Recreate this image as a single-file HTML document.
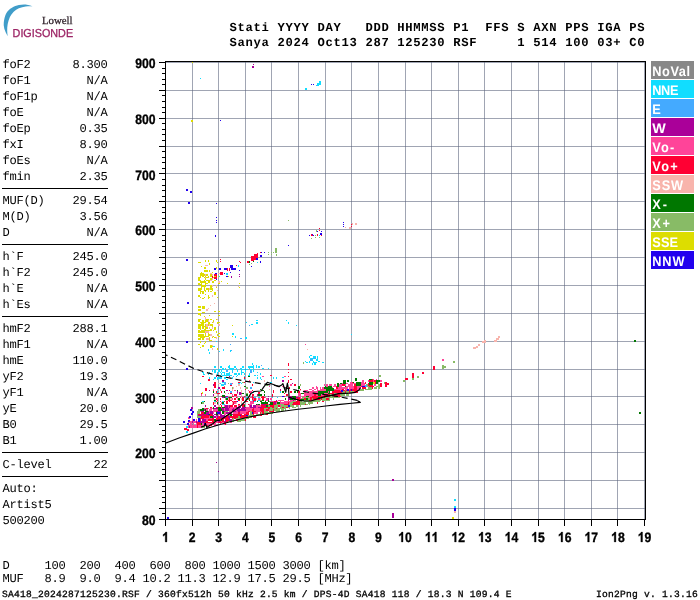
<!DOCTYPE html>
<html><head><meta charset="utf-8"><title>Ionogram</title><style>
html,body{margin:0;padding:0;background:#fff;}
#w{position:absolute;left:0;top:0;width:700px;height:600px;will-change:transform;}
body{width:700px;height:600px;position:relative;overflow:hidden;text-rendering:geometricPrecision;font-family:"Liberation Mono",monospace;color:#000;}
.m{position:absolute;left:2.5px;white-space:pre;font-family:"Liberation Mono",monospace;font-size:12.1px;letter-spacing:-0.26px;line-height:16px;height:16px;}
.h{position:absolute;left:229.5px;white-space:pre;font-family:"Liberation Mono",monospace;font-weight:bold;font-size:12.2px;letter-spacing:0.68px;line-height:16px;height:16px;}
.s{position:absolute;white-space:pre;font-family:"Liberation Mono",monospace;font-weight:normal;-webkit-text-stroke:0.3px #000;font-size:9.6px;letter-spacing:0.24px;line-height:12px;height:12px;}
</style></head><body><div id="w">
<svg width="700" height="600" viewBox="0 0 700 600" style="position:absolute;left:0;top:0">
<g fill="rgba(92,100,124,0.58)" shape-rendering="crispEdges"><rect x="192" y="62" width="1" height="457"/><rect x="218" y="62" width="1" height="457"/><rect x="245" y="62" width="1" height="457"/><rect x="271" y="62" width="1" height="457"/><rect x="298" y="62" width="1" height="457"/><rect x="325" y="62" width="1" height="457"/><rect x="351" y="62" width="1" height="457"/><rect x="378" y="62" width="1" height="457"/><rect x="405" y="62" width="1" height="457"/><rect x="431" y="62" width="1" height="457"/><rect x="458" y="62" width="1" height="457"/><rect x="484" y="62" width="1" height="457"/><rect x="511" y="62" width="1" height="457"/><rect x="538" y="62" width="1" height="457"/><rect x="564" y="62" width="1" height="457"/><rect x="591" y="62" width="1" height="457"/><rect x="617" y="62" width="1" height="457"/><rect x="644" y="62" width="1" height="457"/><rect x="166" y="508" width="479" height="1"/><rect x="166" y="480" width="479" height="1"/><rect x="166" y="452" width="479" height="1"/><rect x="166" y="424" width="479" height="1"/><rect x="166" y="396" width="479" height="1"/><rect x="166" y="369" width="479" height="1"/><rect x="166" y="341" width="479" height="1"/><rect x="166" y="313" width="479" height="1"/><rect x="166" y="285" width="479" height="1"/><rect x="166" y="257" width="479" height="1"/><rect x="166" y="229" width="479" height="1"/><rect x="166" y="201" width="479" height="1"/><rect x="166" y="173" width="479" height="1"/><rect x="166" y="146" width="479" height="1"/><rect x="166" y="118" width="479" height="1"/><rect x="166" y="90" width="479" height="1"/><rect x="166" y="62" width="479" height="1"/></g>
<g shape-rendering="crispEdges">
<path fill="#ff0033" d="M197 426h1v2h-1zM197 425h1v1h-1zM205 425h1v1h-1zM206 425h2v1h-2zM210 425h2v1h-2zM197 423h1v2h-1zM198 423h2v2h-2zM200 423h1v2h-1zM225 423h1v2h-1zM197 422h1v1h-1zM198 422h2v1h-2zM204 422h1v1h-1zM205 422h1v1h-1zM206 422h2v1h-2zM208 422h1v1h-1zM209 422h1v1h-1zM210 422h2v1h-2zM212 422h1v1h-1zM213 422h1v1h-1zM218 422h2v1h-2zM220 422h1v1h-1zM221 422h1v1h-1zM224 422h1v1h-1zM225 422h1v1h-1zM206 421h2v1h-2zM212 421h1v1h-1zM213 421h1v1h-1zM220 421h1v1h-1zM222 421h2v1h-2zM226 421h2v1h-2zM200 419h1v2h-1zM208 419h1v2h-1zM209 419h1v2h-1zM210 419h2v2h-2zM212 419h1v2h-1zM213 419h1v2h-1zM216 419h1v2h-1zM217 419h1v2h-1zM222 419h2v2h-2zM226 419h2v2h-2zM228 419h1v2h-1zM236 419h1v2h-1zM237 419h1v2h-1zM245 419h1v2h-1zM201 418h1v1h-1zM202 418h2v1h-2zM212 418h1v1h-1zM213 418h1v1h-1zM216 418h1v1h-1zM217 418h1v1h-1zM218 418h2v1h-2zM220 418h1v1h-1zM221 418h1v1h-1zM222 418h2v1h-2zM224 418h1v1h-1zM225 418h1v1h-1zM226 418h2v1h-2zM228 418h1v1h-1zM232 418h1v1h-1zM234 418h2v1h-2zM201 416h1v2h-1zM202 416h2v2h-2zM204 416h1v2h-1zM205 416h1v2h-1zM206 416h2v2h-2zM208 416h1v2h-1zM218 416h2v2h-2zM226 416h2v2h-2zM230 416h2v2h-2zM232 416h1v2h-1zM233 416h1v2h-1zM234 416h2v2h-2zM236 416h1v2h-1zM237 416h1v2h-1zM240 416h1v2h-1zM241 416h1v2h-1zM242 416h2v2h-2zM244 416h1v2h-1zM245 416h1v2h-1zM246 416h2v2h-2zM253 416h1v2h-1zM254 416h2v2h-2zM202 415h2v1h-2zM205 415h1v1h-1zM206 415h2v1h-2zM208 415h1v1h-1zM209 415h1v1h-1zM210 415h2v1h-2zM212 415h1v1h-1zM226 415h2v1h-2zM228 415h1v1h-1zM233 415h1v1h-1zM234 415h2v1h-2zM236 415h1v1h-1zM237 415h1v1h-1zM238 415h2v1h-2zM241 415h1v1h-1zM242 415h2v1h-2zM244 415h1v1h-1zM245 415h1v1h-1zM260 415h1v1h-1zM261 415h1v1h-1zM198 414h2v1h-2zM200 414h1v1h-1zM201 414h1v1h-1zM204 414h1v1h-1zM210 414h2v1h-2zM228 414h1v1h-1zM233 414h1v1h-1zM234 414h2v1h-2zM236 414h1v1h-1zM237 414h1v1h-1zM238 414h2v1h-2zM240 414h1v1h-1zM241 414h1v1h-1zM244 414h1v1h-1zM245 414h1v1h-1zM246 414h2v1h-2zM248 414h1v1h-1zM253 414h1v1h-1zM266 414h2v1h-2zM201 412h1v2h-1zM202 412h2v2h-2zM238 412h2v2h-2zM246 412h2v2h-2zM248 412h1v2h-1zM253 412h1v2h-1zM260 412h1v2h-1zM262 412h2v2h-2zM216 411h1v1h-1zM248 411h1v1h-1zM249 411h1v1h-1zM252 411h1v1h-1zM253 411h1v1h-1zM254 411h2v1h-2zM261 411h1v1h-1zM262 411h2v1h-2zM269 411h1v1h-1zM270 411h2v1h-2zM272 411h1v1h-1zM273 411h1v1h-1zM252 409h1v2h-1zM253 409h1v2h-1zM260 409h1v2h-1zM261 409h1v2h-1zM262 409h2v2h-2zM266 409h2v2h-2zM268 409h1v2h-1zM273 409h1v2h-1zM206 408h2v1h-2zM253 408h1v1h-1zM260 408h1v1h-1zM261 408h1v1h-1zM262 408h2v1h-2zM268 408h1v1h-1zM269 408h1v1h-1zM276 408h1v1h-1zM217 407h1v1h-1zM262 407h2v1h-2zM264 407h1v1h-1zM265 407h1v1h-1zM266 407h2v1h-2zM268 407h1v1h-1zM269 407h1v1h-1zM272 407h1v1h-1zM273 407h1v1h-1zM282 407h2v1h-2zM286 407h2v1h-2zM230 405h2v2h-2zM232 405h1v2h-1zM234 405h2v2h-2zM236 405h1v2h-1zM242 405h2v2h-2zM261 405h1v2h-1zM262 405h2v2h-2zM264 405h1v2h-1zM270 405h2v2h-2zM272 405h1v2h-1zM273 405h1v2h-1zM278 405h2v2h-2zM238 404h2v1h-2zM242 404h2v1h-2zM244 404h1v1h-1zM248 404h1v1h-1zM261 404h1v1h-1zM265 404h1v1h-1zM266 404h2v1h-2zM273 404h1v1h-1zM274 404h2v1h-2zM284 404h1v1h-1zM285 404h1v1h-1zM286 404h2v1h-2zM288 404h1v1h-1zM292 404h1v1h-1zM293 404h1v1h-1zM294 404h2v1h-2zM296 404h1v1h-1zM297 404h1v1h-1zM298 404h2v1h-2zM305 404h1v1h-1zM273 402h1v2h-1zM288 402h1v2h-1zM293 402h1v2h-1zM294 402h2v2h-2zM296 402h1v2h-1zM297 402h1v2h-1zM298 402h2v2h-2zM317 402h1v2h-1zM274 401h2v1h-2zM276 401h1v1h-1zM296 401h1v1h-1zM297 401h1v1h-1zM298 401h2v1h-2zM322 401h2v1h-2zM288 400h1v1h-1zM297 400h1v1h-1zM298 400h2v1h-2zM300 400h1v1h-1zM309 400h1v1h-1zM310 400h2v1h-2zM297 398h1v2h-1zM298 398h2v2h-2zM304 398h1v2h-1zM305 398h1v2h-1zM310 398h2v2h-2zM313 398h1v2h-1zM314 398h2v2h-2zM316 398h1v2h-1zM317 398h1v2h-1zM318 398h2v2h-2zM321 398h1v2h-1zM326 398h2v2h-2zM328 398h1v2h-1zM298 397h2v1h-2zM310 397h2v1h-2zM312 397h1v1h-1zM313 397h1v1h-1zM314 397h2v1h-2zM316 397h1v1h-1zM317 397h1v1h-1zM320 397h1v1h-1zM324 397h1v1h-1zM312 396h1v1h-1zM313 396h1v1h-1zM314 396h2v1h-2zM316 396h1v1h-1zM317 396h1v1h-1zM318 396h2v1h-2zM320 396h1v1h-1zM321 396h1v1h-1zM322 396h2v1h-2zM324 396h1v1h-1zM326 396h2v1h-2zM328 396h1v1h-1zM329 396h1v1h-1zM334 396h2v1h-2zM336 396h1v1h-1zM337 396h1v1h-1zM338 396h2v1h-2zM340 396h1v1h-1zM314 394h2v2h-2zM324 394h1v2h-1zM325 394h1v2h-1zM326 394h2v2h-2zM328 394h1v2h-1zM329 394h1v2h-1zM332 394h1v2h-1zM333 394h1v2h-1zM334 394h2v2h-2zM336 394h1v2h-1zM337 394h1v2h-1zM338 394h2v2h-2zM316 393h1v1h-1zM317 393h1v1h-1zM318 393h2v1h-2zM330 393h2v1h-2zM332 393h1v1h-1zM333 393h1v1h-1zM337 393h1v1h-1zM338 393h2v1h-2zM332 391h1v2h-1zM333 391h1v2h-1zM334 391h2v2h-2zM336 391h1v2h-1zM337 391h1v2h-1zM338 391h2v2h-2zM340 391h1v2h-1zM341 391h1v2h-1zM345 391h1v2h-1zM349 391h1v2h-1zM354 391h2v2h-2zM356 391h1v2h-1zM357 391h1v2h-1zM332 390h1v1h-1zM334 390h2v1h-2zM336 390h1v1h-1zM337 390h1v1h-1zM338 390h2v1h-2zM341 390h1v1h-1zM342 390h2v1h-2zM344 390h1v1h-1zM346 390h2v1h-2zM348 390h1v1h-1zM349 390h1v1h-1zM350 390h2v1h-2zM352 390h1v1h-1zM353 390h1v1h-1zM354 390h2v1h-2zM356 390h1v1h-1zM357 390h1v1h-1zM342 389h2v1h-2zM350 389h2v1h-2zM352 389h1v1h-1zM353 389h1v1h-1zM354 389h2v1h-2zM356 389h1v1h-1zM336 387h1v2h-1zM337 387h1v2h-1zM354 387h2v2h-2zM356 387h1v2h-1zM362 387h2v2h-2zM364 387h1v2h-1zM365 387h1v2h-1zM372 387h1v2h-1zM336 386h1v1h-1zM354 386h2v1h-2zM356 386h1v1h-1zM361 386h1v1h-1zM369 386h1v1h-1zM370 386h2v1h-2zM372 386h1v1h-1zM373 386h1v1h-1zM342 384h2v2h-2zM344 384h1v2h-1zM354 384h2v2h-2zM356 384h1v2h-1zM368 384h1v2h-1zM369 384h1v2h-1zM370 384h2v2h-2zM372 384h1v2h-1zM365 383h1v1h-1zM368 383h1v1h-1zM369 383h1v1h-1zM372 383h1v1h-1zM374 383h2v1h-2zM376 383h1v1h-1zM377 383h1v1h-1zM352 382h1v1h-1zM365 382h1v1h-1zM369 382h1v1h-1zM370 382h2v1h-2zM372 382h1v1h-1zM373 382h1v1h-1zM374 382h2v1h-2zM372 380h1v2h-1zM374 380h2v2h-2zM369 379h4v3h-4zM184 428h3v2h-3zM187 429h2v2h-2zM201 393h1v1h-1zM202 376h2v1h-2zM210 407h2v1h-2zM213 404h1v1h-1zM213 402h1v2h-1zM213 390h1v1h-1zM216 401h1v1h-1zM216 398h1v2h-1zM216 391h1v2h-1zM217 400h1v1h-1zM217 393h1v1h-1zM218 393h2v1h-2zM220 404h1v1h-1zM220 401h1v1h-1zM220 398h1v2h-1zM221 405h1v2h-1zM221 396h1v1h-1zM221 391h1v2h-1zM222 387h2v2h-2zM224 401h1v1h-1zM224 387h1v2h-1zM226 402h2v2h-2zM226 401h2v1h-2zM228 400h1v1h-1zM228 397h1v1h-1zM229 401h1v1h-1zM229 400h1v1h-1zM229 398h1v2h-1zM229 390h1v1h-1zM230 400h2v1h-2zM230 393h2v1h-2zM230 384h2v2h-2zM232 401h1v1h-1zM232 396h1v1h-1zM233 404h1v1h-1zM233 402h1v2h-1zM233 396h1v1h-1zM234 401h2v1h-2zM234 398h2v2h-2zM234 394h2v2h-2zM236 401h1v1h-1zM236 397h1v1h-1zM236 394h1v2h-1zM238 400h2v1h-2zM238 382h2v1h-2zM240 397h1v1h-1zM242 400h2v1h-2zM242 398h2v2h-2zM242 397h2v1h-2zM244 396h1v1h-1zM244 382h1v1h-1zM244 377h1v2h-1zM245 401h1v1h-1zM245 389h1v1h-1zM246 401h2v1h-2zM248 397h1v1h-1zM249 398h1v2h-1zM249 391h1v2h-1zM252 398h1v2h-1zM252 396h1v1h-1zM252 394h1v2h-1zM252 390h1v1h-1zM252 384h1v2h-1zM253 394h1v2h-1zM261 397h1v1h-1zM264 397h1v1h-1zM270 375h2v1h-2zM272 396h1v1h-1zM272 394h1v2h-1zM273 391h1v2h-1zM273 390h1v1h-1zM280 390h1v1h-1zM284 396h1v1h-1zM284 393h1v1h-1zM286 394h2v2h-2zM288 390h1v1h-1zM288 389h1v1h-1zM289 387h1v2h-1zM290 391h2v2h-2zM290 379h2v1h-2zM294 384h2v2h-2zM298 391h2v2h-2zM300 389h1v1h-1zM208 379h2v2h-2zM214 382h2v6h-2zM252 397h4v5h-4zM205 388h2v3h-2zM258 392h2v3h-2zM262 396h2v4h-2zM288 363h1v2h-1zM288 365h1v1h-1zM288 369h1v1h-1zM288 372h1v1h-1zM288 376h1v1h-1zM288 380h1v2h-1zM288 382h1v1h-1zM220 259h1v1h-1zM220 261h1v1h-1zM227 268h1v3h-1zM229 268h1v3h-1zM232 269h1v1h-1zM236 265h1v1h-1zM239 261h1v1h-1zM240 262h1v1h-1zM220 272h3v3h-3zM214 274h3v5h-3zM212 276h1v2h-1zM251 256h3v5h-3zM254 254h4v6h-4zM257 253h1v2h-1zM247 261h2v2h-2zM260 252h2v1h-2zM319 228h1v1h-1zM319 230h1v1h-1zM311 234h2v2h-2zM317 234h1v2h-1zM321 234h1v2h-1zM351 224h1v1h-1zM351 226h1v1h-1zM380 383h2v4h-2zM385 382h2v5h-2zM387 383h2v2h-2zM405 378h3v2h-3zM412 373h2v5h-2zM422 372h2v2h-2zM433 366h2v4h-2z"/>
<path fill="#ff4499" d="M198 426h2v2h-2zM200 426h1v2h-1zM201 426h1v2h-1zM209 426h1v2h-1zM198 425h2v1h-2zM200 425h1v1h-1zM201 425h1v1h-1zM202 425h2v1h-2zM214 425h2v1h-2zM216 425h1v1h-1zM217 425h1v1h-1zM202 423h2v2h-2zM206 423h2v2h-2zM208 423h1v2h-1zM209 423h1v2h-1zM210 423h2v2h-2zM212 423h1v2h-1zM213 423h1v2h-1zM214 423h2v2h-2zM220 423h1v2h-1zM224 423h1v2h-1zM214 422h2v1h-2zM216 422h1v1h-1zM217 422h1v1h-1zM222 422h2v1h-2zM230 422h2v1h-2zM197 421h1v1h-1zM216 421h1v1h-1zM217 421h1v1h-1zM221 421h1v1h-1zM206 419h2v2h-2zM204 418h1v1h-1zM205 418h1v1h-1zM206 418h2v1h-2zM208 418h1v1h-1zM209 418h1v1h-1zM210 418h2v1h-2zM209 416h1v2h-1zM216 416h1v2h-1zM218 414h2v1h-2zM224 414h1v1h-1zM225 414h1v1h-1zM209 412h1v2h-1zM213 412h1v2h-1zM224 412h1v2h-1zM225 412h1v2h-1zM233 412h1v2h-1zM234 412h2v2h-2zM236 412h1v2h-1zM237 412h1v2h-1zM240 412h1v2h-1zM241 412h1v2h-1zM242 412h2v2h-2zM244 412h1v2h-1zM245 412h1v2h-1zM254 412h2v2h-2zM256 412h1v2h-1zM257 412h1v2h-1zM200 411h1v1h-1zM209 411h1v1h-1zM213 411h1v1h-1zM214 411h2v1h-2zM229 411h1v1h-1zM230 411h2v1h-2zM232 411h1v1h-1zM236 411h1v1h-1zM237 411h1v1h-1zM240 411h1v1h-1zM241 411h1v1h-1zM242 411h2v1h-2zM244 411h1v1h-1zM245 411h1v1h-1zM246 411h2v1h-2zM256 411h1v1h-1zM257 411h1v1h-1zM258 411h2v1h-2zM260 411h1v1h-1zM206 409h2v2h-2zM209 409h1v2h-1zM210 409h2v2h-2zM213 409h1v2h-1zM214 409h2v2h-2zM216 409h1v2h-1zM217 409h1v2h-1zM224 409h1v2h-1zM229 409h1v2h-1zM230 409h2v2h-2zM234 409h2v2h-2zM236 409h1v2h-1zM246 409h2v2h-2zM248 409h1v2h-1zM249 409h1v2h-1zM250 409h2v2h-2zM254 409h2v2h-2zM256 409h1v2h-1zM257 409h1v2h-1zM258 409h2v2h-2zM265 409h1v2h-1zM204 408h1v1h-1zM205 408h1v1h-1zM210 408h2v1h-2zM212 408h1v1h-1zM224 408h1v1h-1zM229 408h1v1h-1zM230 408h2v1h-2zM232 408h1v1h-1zM234 408h2v1h-2zM245 408h1v1h-1zM246 408h2v1h-2zM248 408h1v1h-1zM249 408h1v1h-1zM250 408h2v1h-2zM252 408h1v1h-1zM254 408h2v1h-2zM256 408h1v1h-1zM257 408h1v1h-1zM258 408h2v1h-2zM221 407h1v1h-1zM228 407h1v1h-1zM230 407h2v1h-2zM232 407h1v1h-1zM233 407h1v1h-1zM234 407h2v1h-2zM246 407h2v1h-2zM248 407h1v1h-1zM249 407h1v1h-1zM256 407h1v1h-1zM257 407h1v1h-1zM228 405h1v2h-1zM238 405h2v2h-2zM249 405h1v2h-1zM256 405h1v2h-1zM257 405h1v2h-1zM258 405h2v2h-2zM260 405h1v2h-1zM280 405h1v2h-1zM249 404h1v1h-1zM250 404h2v1h-2zM268 404h1v1h-1zM250 402h2v2h-2zM252 402h1v2h-1zM253 402h1v2h-1zM276 402h1v2h-1zM280 402h1v2h-1zM281 402h1v2h-1zM282 402h2v2h-2zM284 402h1v2h-1zM285 402h1v2h-1zM286 402h2v2h-2zM289 402h1v2h-1zM269 401h1v1h-1zM270 401h2v1h-2zM272 401h1v1h-1zM273 401h1v1h-1zM277 401h1v1h-1zM280 401h1v1h-1zM284 401h1v1h-1zM285 401h1v1h-1zM286 401h2v1h-2zM288 401h1v1h-1zM289 401h1v1h-1zM290 401h2v1h-2zM265 400h1v1h-1zM266 400h2v1h-2zM278 400h2v1h-2zM280 400h1v1h-1zM281 400h1v1h-1zM282 400h2v1h-2zM290 400h2v1h-2zM292 400h1v1h-1zM294 400h2v1h-2zM270 398h2v2h-2zM294 398h2v2h-2zM296 398h1v2h-1zM300 398h1v2h-1zM301 398h1v2h-1zM300 397h1v1h-1zM308 397h1v1h-1zM309 397h1v1h-1zM296 396h1v1h-1zM297 396h1v1h-1zM300 396h1v1h-1zM302 396h2v1h-2zM304 396h1v1h-1zM305 396h1v1h-1zM309 396h1v1h-1zM310 396h2v1h-2zM298 394h2v2h-2zM300 394h1v2h-1zM304 394h1v2h-1zM305 394h1v2h-1zM306 394h2v2h-2zM308 394h1v2h-1zM309 394h1v2h-1zM310 394h2v2h-2zM312 394h1v2h-1zM313 394h1v2h-1zM316 394h1v2h-1zM317 394h1v2h-1zM321 394h1v2h-1zM322 394h2v2h-2zM298 393h2v1h-2zM300 393h1v1h-1zM304 393h1v1h-1zM305 393h1v1h-1zM306 393h2v1h-2zM308 393h1v1h-1zM309 393h1v1h-1zM310 393h2v1h-2zM312 393h1v1h-1zM313 393h1v1h-1zM314 393h2v1h-2zM322 393h2v1h-2zM324 393h1v1h-1zM325 393h1v1h-1zM326 393h2v1h-2zM304 391h1v2h-1zM305 391h1v2h-1zM308 391h1v2h-1zM309 391h1v2h-1zM310 391h2v2h-2zM312 391h1v2h-1zM313 391h1v2h-1zM314 391h2v2h-2zM316 391h1v2h-1zM317 391h1v2h-1zM318 391h2v2h-2zM328 391h1v2h-1zM304 390h1v1h-1zM305 390h1v1h-1zM306 390h2v1h-2zM312 390h1v1h-1zM313 390h1v1h-1zM317 390h1v1h-1zM318 390h2v1h-2zM320 390h1v1h-1zM321 390h1v1h-1zM322 390h2v1h-2zM324 390h1v1h-1zM325 390h1v1h-1zM326 390h2v1h-2zM328 390h1v1h-1zM329 390h1v1h-1zM330 390h2v1h-2zM340 390h1v1h-1zM309 389h1v1h-1zM310 389h2v1h-2zM314 389h2v1h-2zM317 389h1v1h-1zM320 389h1v1h-1zM321 389h1v1h-1zM322 389h2v1h-2zM324 389h1v1h-1zM325 389h1v1h-1zM329 389h1v1h-1zM330 389h2v1h-2zM332 389h1v1h-1zM333 389h1v1h-1zM334 389h2v1h-2zM336 389h1v1h-1zM337 389h1v1h-1zM338 389h2v1h-2zM340 389h1v1h-1zM341 389h1v1h-1zM345 389h1v1h-1zM346 389h2v1h-2zM348 389h1v1h-1zM349 389h1v1h-1zM357 389h1v1h-1zM358 389h2v1h-2zM312 387h1v2h-1zM313 387h1v2h-1zM316 387h1v2h-1zM317 387h1v2h-1zM320 387h1v2h-1zM322 387h2v2h-2zM329 387h1v2h-1zM330 387h2v2h-2zM332 387h1v2h-1zM338 387h2v2h-2zM340 387h1v2h-1zM341 387h1v2h-1zM342 387h2v2h-2zM344 387h1v2h-1zM345 387h1v2h-1zM346 387h2v2h-2zM349 387h1v2h-1zM350 387h2v2h-2zM352 387h1v2h-1zM353 387h1v2h-1zM357 387h1v2h-1zM358 387h2v2h-2zM360 387h1v2h-1zM316 386h1v1h-1zM326 386h2v1h-2zM328 386h1v1h-1zM329 386h1v1h-1zM333 386h1v1h-1zM334 386h2v1h-2zM338 386h2v1h-2zM340 386h1v1h-1zM341 386h1v1h-1zM346 386h2v1h-2zM348 386h1v1h-1zM349 386h1v1h-1zM350 386h2v1h-2zM352 386h1v1h-1zM353 386h1v1h-1zM357 386h1v1h-1zM358 386h2v1h-2zM360 386h1v1h-1zM324 384h1v2h-1zM326 384h2v2h-2zM329 384h1v2h-1zM330 384h2v2h-2zM334 384h2v2h-2zM338 384h2v2h-2zM340 384h1v2h-1zM341 384h1v2h-1zM345 384h1v2h-1zM348 384h1v2h-1zM349 384h1v2h-1zM350 384h2v2h-2zM352 384h1v2h-1zM357 384h1v2h-1zM358 384h2v2h-2zM360 384h1v2h-1zM361 384h1v2h-1zM362 384h2v2h-2zM364 384h1v2h-1zM374 384h2v2h-2zM342 383h2v1h-2zM346 383h2v1h-2zM350 383h2v1h-2zM352 383h1v1h-1zM353 383h1v1h-1zM354 383h2v1h-2zM357 383h1v1h-1zM358 383h2v1h-2zM360 383h1v1h-1zM361 383h1v1h-1zM362 383h2v1h-2zM364 383h1v1h-1zM350 382h2v1h-2zM357 382h1v1h-1zM361 382h1v1h-1zM362 382h2v1h-2zM362 380h2v2h-2zM368 380h1v2h-1zM373 380h1v2h-1zM373 379h1v1h-1zM376 379h1v1h-1zM188 426h1v2h-1zM188 425h1v1h-1zM188 423h1v2h-1zM188 422h1v1h-1zM188 421h1v1h-1zM189 425h1v1h-1zM189 422h1v1h-1zM190 426h2v2h-2zM190 425h2v1h-2zM190 423h2v2h-2zM190 422h2v1h-2zM190 421h2v1h-2zM192 426h1v2h-1zM192 425h1v1h-1zM192 419h1v2h-1zM193 426h1v2h-1zM193 425h1v1h-1zM193 423h1v2h-1zM193 422h1v1h-1zM193 421h1v1h-1zM194 426h2v2h-2zM194 425h2v1h-2zM194 422h2v1h-2zM194 421h2v1h-2zM196 426h1v2h-1zM196 425h1v1h-1zM196 423h1v2h-1zM196 419h1v2h-1zM188 417h2v2h-2zM201 394h1v2h-1zM205 394h1v2h-1zM213 389h1v1h-1zM217 404h1v1h-1zM217 398h1v2h-1zM220 389h1v1h-1zM221 402h1v2h-1zM224 405h1v2h-1zM224 396h1v1h-1zM225 383h1v1h-1zM228 393h1v1h-1zM232 404h1v1h-1zM232 398h1v2h-1zM232 394h1v2h-1zM232 383h1v1h-1zM233 401h1v1h-1zM234 402h2v2h-2zM234 390h2v1h-2zM236 396h1v1h-1zM237 397h1v1h-1zM237 393h1v1h-1zM241 396h1v1h-1zM245 397h1v1h-1zM248 390h1v1h-1zM249 380h1v2h-1zM250 401h2v1h-2zM250 397h2v1h-2zM250 391h2v2h-2zM252 401h1v1h-1zM253 398h1v2h-1zM258 398h2v2h-2zM260 400h1v1h-1zM262 376h2v1h-2zM265 397h1v1h-1zM266 398h2v2h-2zM269 386h1v1h-1zM282 386h2v1h-2zM282 380h2v2h-2zM290 384h2v2h-2zM380 380h2v2h-2zM442 359h2v2h-2zM305 344h1v1h-1zM284 376h2v1h-2z"/>
<path fill="#88bb66" d="M202 426h2v2h-2zM204 426h1v2h-1zM208 426h1v2h-1zM226 422h2v1h-2zM214 421h2v1h-2zM228 421h1v1h-1zM229 421h1v1h-1zM230 421h2v1h-2zM232 421h1v1h-1zM233 421h1v1h-1zM237 421h1v1h-1zM238 421h2v1h-2zM240 421h1v1h-1zM232 419h1v2h-1zM233 419h1v2h-1zM238 419h2v2h-2zM240 419h1v2h-1zM241 419h1v2h-1zM242 419h2v2h-2zM244 419h1v2h-1zM233 418h1v1h-1zM236 418h1v1h-1zM237 418h1v1h-1zM238 418h2v1h-2zM240 418h1v1h-1zM241 418h1v1h-1zM242 418h2v1h-2zM244 418h1v1h-1zM245 418h1v1h-1zM246 418h2v1h-2zM248 418h1v1h-1zM197 416h1v2h-1zM198 416h2v2h-2zM200 416h1v2h-1zM238 416h2v2h-2zM248 416h1v2h-1zM249 416h1v2h-1zM250 416h2v2h-2zM197 415h1v1h-1zM229 415h1v1h-1zM248 415h1v1h-1zM249 415h1v1h-1zM250 415h2v1h-2zM252 415h1v1h-1zM253 415h1v1h-1zM254 415h2v1h-2zM256 415h1v1h-1zM257 415h1v1h-1zM258 415h2v1h-2zM197 414h1v1h-1zM229 414h1v1h-1zM250 414h2v1h-2zM252 414h1v1h-1zM256 414h1v1h-1zM257 414h1v1h-1zM258 414h2v1h-2zM260 414h1v1h-1zM261 414h1v1h-1zM262 414h2v1h-2zM265 414h1v1h-1zM197 412h1v2h-1zM198 412h2v2h-2zM250 412h2v2h-2zM261 412h1v2h-1zM264 412h1v2h-1zM265 412h1v2h-1zM266 412h2v2h-2zM268 412h1v2h-1zM269 412h1v2h-1zM270 412h2v2h-2zM272 412h1v2h-1zM197 411h1v1h-1zM198 411h2v1h-2zM225 411h1v1h-1zM226 411h2v1h-2zM250 411h2v1h-2zM264 411h1v1h-1zM265 411h1v1h-1zM266 411h2v1h-2zM276 411h1v1h-1zM277 411h1v1h-1zM278 411h2v1h-2zM198 409h2v2h-2zM264 409h1v2h-1zM269 409h1v2h-1zM270 409h2v2h-2zM272 409h1v2h-1zM274 409h2v2h-2zM276 409h1v2h-1zM277 409h1v2h-1zM278 409h2v2h-2zM281 409h1v2h-1zM282 409h2v2h-2zM285 409h1v2h-1zM208 408h1v1h-1zM264 408h1v1h-1zM265 408h1v1h-1zM266 408h2v1h-2zM270 408h2v1h-2zM272 408h1v1h-1zM273 408h1v1h-1zM274 408h2v1h-2zM277 408h1v1h-1zM278 408h2v1h-2zM280 408h1v1h-1zM281 408h1v1h-1zM282 408h2v1h-2zM284 408h1v1h-1zM285 408h1v1h-1zM289 408h1v1h-1zM270 407h2v1h-2zM274 407h2v1h-2zM276 407h1v1h-1zM277 407h1v1h-1zM280 407h1v1h-1zM281 407h1v1h-1zM284 407h1v1h-1zM285 407h1v1h-1zM288 407h1v1h-1zM289 407h1v1h-1zM292 407h1v1h-1zM293 407h1v1h-1zM294 407h2v1h-2zM268 405h1v2h-1zM269 405h1v2h-1zM274 405h2v2h-2zM276 405h1v2h-1zM277 405h1v2h-1zM281 405h1v2h-1zM282 405h2v2h-2zM284 405h1v2h-1zM285 405h1v2h-1zM286 405h2v2h-2zM290 405h2v2h-2zM292 405h1v2h-1zM293 405h1v2h-1zM296 405h1v2h-1zM297 405h1v2h-1zM300 405h1v2h-1zM276 404h1v1h-1zM277 404h1v1h-1zM278 404h2v1h-2zM280 404h1v1h-1zM281 404h1v1h-1zM282 404h2v1h-2zM289 404h1v1h-1zM290 404h2v1h-2zM300 404h1v1h-1zM301 404h1v1h-1zM302 404h2v1h-2zM304 404h1v1h-1zM306 404h2v1h-2zM309 404h1v1h-1zM290 402h2v2h-2zM292 402h1v2h-1zM300 402h1v2h-1zM301 402h1v2h-1zM302 402h2v2h-2zM304 402h1v2h-1zM305 402h1v2h-1zM308 402h1v2h-1zM309 402h1v2h-1zM310 402h2v2h-2zM312 402h1v2h-1zM292 401h1v1h-1zM293 401h1v1h-1zM294 401h2v1h-2zM300 401h1v1h-1zM301 401h1v1h-1zM304 401h1v1h-1zM305 401h1v1h-1zM306 401h2v1h-2zM308 401h1v1h-1zM309 401h1v1h-1zM310 401h2v1h-2zM312 401h1v1h-1zM313 401h1v1h-1zM314 401h2v1h-2zM316 401h1v1h-1zM317 401h1v1h-1zM318 401h2v1h-2zM301 400h1v1h-1zM302 400h2v1h-2zM304 400h1v1h-1zM305 400h1v1h-1zM306 400h2v1h-2zM308 400h1v1h-1zM312 400h1v1h-1zM313 400h1v1h-1zM314 400h2v1h-2zM316 400h1v1h-1zM317 400h1v1h-1zM318 400h2v1h-2zM320 400h1v1h-1zM322 400h2v1h-2zM324 400h1v1h-1zM325 400h1v1h-1zM326 400h2v1h-2zM328 400h1v1h-1zM329 400h1v1h-1zM302 398h2v2h-2zM308 398h1v2h-1zM309 398h1v2h-1zM312 398h1v2h-1zM320 398h1v2h-1zM322 398h2v2h-2zM324 398h1v2h-1zM325 398h1v2h-1zM329 398h1v2h-1zM333 398h1v2h-1zM302 397h2v1h-2zM304 397h1v1h-1zM305 397h1v1h-1zM306 397h2v1h-2zM321 397h1v1h-1zM322 397h2v1h-2zM325 397h1v1h-1zM326 397h2v1h-2zM328 397h1v1h-1zM329 397h1v1h-1zM330 397h2v1h-2zM332 397h1v1h-1zM333 397h1v1h-1zM334 397h2v1h-2zM336 397h1v1h-1zM337 397h1v1h-1zM338 397h2v1h-2zM325 396h1v1h-1zM330 396h2v1h-2zM332 396h1v1h-1zM333 396h1v1h-1zM341 396h1v1h-1zM330 394h2v2h-2zM340 394h1v2h-1zM341 394h1v2h-1zM342 394h2v2h-2zM344 394h1v2h-1zM346 394h2v2h-2zM348 394h1v2h-1zM334 393h2v1h-2zM336 393h1v1h-1zM340 393h1v1h-1zM341 393h1v1h-1zM342 393h2v1h-2zM344 393h1v1h-1zM345 393h1v1h-1zM346 393h2v1h-2zM342 391h2v2h-2zM344 391h1v2h-1zM346 391h2v2h-2zM348 391h1v2h-1zM350 391h2v2h-2zM352 391h1v2h-1zM353 391h1v2h-1zM345 390h1v1h-1zM358 390h2v1h-2zM360 390h1v1h-1zM361 390h1v1h-1zM362 390h2v1h-2zM360 389h1v1h-1zM361 389h1v1h-1zM362 389h2v1h-2zM365 389h1v1h-1zM366 389h2v1h-2zM368 389h1v1h-1zM369 389h1v1h-1zM370 389h2v1h-2zM368 387h1v2h-1zM369 387h1v2h-1zM370 387h2v2h-2zM374 387h2v2h-2zM376 387h1v2h-1zM378 387h2v2h-2zM365 386h1v1h-1zM366 386h2v1h-2zM368 386h1v1h-1zM376 386h1v1h-1zM377 386h1v1h-1zM378 386h2v1h-2zM366 384h2v2h-2zM378 384h2v2h-2zM377 382h1v1h-1zM379 375h2v2h-2zM202 402h2v2h-2zM216 393h1v1h-1zM220 390h1v1h-1zM224 386h1v1h-1zM225 398h1v2h-1zM228 383h1v1h-1zM232 387h1v2h-1zM242 382h2v1h-2zM246 398h2v2h-2zM246 393h2v1h-2zM246 387h2v2h-2zM248 398h1v2h-1zM261 400h1v1h-1zM261 396h1v1h-1zM266 384h2v2h-2zM300 384h1v2h-1zM249 264h1v1h-1zM251 263h1v1h-1zM268 252h1v1h-1zM268 254h1v1h-1zM271 252h1v1h-1zM271 254h1v1h-1zM273 252h1v1h-1zM275 248h2v5h-2zM276 254h1v2h-1zM316 230h1v2h-1zM315 235h1v1h-1zM311 238h1v1h-1zM315 237h1v1h-1zM319 237h1v1h-1zM288 220h1v1h-1zM384 382h1v2h-1zM380 375h1v2h-1zM403 380h2v2h-2zM412 378h2v2h-2zM417 376h2v2h-2zM442 365h2v4h-2zM444 366h2v2h-2zM453 361h2v2h-2zM216 508h1v1h-1zM303 362h1v2h-1z"/>
<path fill="#007700" d="M201 423h1v2h-1zM214 419h2v2h-2zM221 419h1v2h-1zM210 416h2v2h-2zM212 416h1v2h-1zM230 415h2v1h-2zM209 414h1v1h-1zM216 414h1v1h-1zM217 414h1v1h-1zM230 414h2v1h-2zM204 412h1v2h-1zM205 412h1v2h-1zM216 412h1v2h-1zM222 412h2v2h-2zM205 411h1v1h-1zM206 411h2v1h-2zM222 411h2v1h-2zM200 409h1v2h-1zM201 409h1v2h-1zM202 409h2v2h-2zM205 409h1v2h-1zM218 409h2v2h-2zM220 409h1v2h-1zM221 409h1v2h-1zM202 408h2v1h-2zM213 408h1v1h-1zM218 408h2v1h-2zM220 408h1v1h-1zM218 407h2v1h-2zM220 407h1v1h-1zM222 407h2v1h-2zM224 407h1v1h-1zM244 405h1v2h-1zM266 405h2v2h-2zM256 404h1v1h-1zM258 404h2v1h-2zM269 404h1v1h-1zM270 404h2v1h-2zM272 404h1v1h-1zM261 402h1v2h-1zM262 402h2v2h-2zM264 402h1v2h-1zM265 402h1v2h-1zM266 402h2v2h-2zM270 402h2v2h-2zM272 402h1v2h-1zM277 402h1v2h-1zM278 402h2v2h-2zM257 401h1v1h-1zM260 401h1v1h-1zM261 401h1v1h-1zM265 401h1v1h-1zM268 401h1v1h-1zM268 400h1v1h-1zM285 398h1v2h-1zM306 398h2v2h-2zM293 397h1v1h-1zM294 397h2v1h-2zM318 397h2v1h-2zM292 396h1v1h-1zM293 396h1v1h-1zM294 396h2v1h-2zM306 396h2v1h-2zM308 396h1v1h-1zM318 394h2v2h-2zM320 394h1v2h-1zM301 393h1v1h-1zM302 393h2v1h-2zM320 393h1v1h-1zM321 393h1v1h-1zM328 393h1v1h-1zM329 393h1v1h-1zM320 391h1v2h-1zM321 391h1v2h-1zM322 391h2v2h-2zM324 391h1v2h-1zM325 391h1v2h-1zM326 391h2v2h-2zM329 391h1v2h-1zM326 389h2v1h-2zM328 389h1v1h-1zM324 387h1v2h-1zM325 387h1v2h-1zM326 387h2v2h-2zM328 387h1v2h-1zM325 386h1v1h-1zM345 386h1v1h-1zM340 383h1v1h-1zM341 383h1v1h-1zM353 382h1v1h-1zM360 382h1v1h-1zM378 380h2v2h-2zM369 379h1v1h-1zM370 379h2v1h-2zM337 383h2v4h-2zM343 380h3v4h-3zM347 380h2v2h-2zM355 378h2v3h-2zM356 382h5v4h-5zM326 388h8v3h-8zM328 386h4v2h-4zM318 391h6v3h-6zM369 382h4v3h-4zM376 380h2v4h-2zM288 398h8v2h-8zM300 399h4v2h-4zM201 402h1v2h-1zM204 401h1v1h-1zM213 407h1v1h-1zM213 391h1v2h-1zM214 400h2v1h-2zM214 397h2v1h-2zM217 402h1v2h-1zM222 402h2v2h-2zM224 391h1v2h-1zM229 397h1v1h-1zM230 397h2v1h-2zM237 390h1v1h-1zM238 398h2v2h-2zM242 393h2v1h-2zM244 386h1v1h-1zM245 386h1v1h-1zM246 394h2v2h-2zM249 400h1v1h-1zM258 394h2v2h-2zM258 383h2v1h-2zM260 394h1v2h-1zM260 389h1v1h-1zM261 394h1v2h-1zM262 400h2v1h-2zM262 390h2v1h-2zM264 394h1v2h-1zM264 391h1v2h-1zM282 391h2v2h-2zM294 391h2v2h-2zM297 391h1v2h-1zM298 387h2v2h-2zM298 386h2v1h-2zM222 395h3v3h-3zM226 397h2v3h-2zM248 375h2v2h-2zM231 268h1v1h-1zM249 261h1v2h-1zM253 261h1v1h-1zM634 340h2v2h-2zM639 412h2v2h-2z"/>
<path fill="#2200ee" d="M204 423h1v2h-1zM205 423h1v2h-1zM198 421h2v1h-2zM198 419h2v2h-2zM198 418h2v1h-2zM240 415h1v1h-1zM246 415h2v1h-2zM208 414h1v1h-1zM217 412h1v2h-1zM218 412h2v2h-2zM252 412h1v2h-1zM288 405h1v2h-1zM289 405h1v2h-1zM362 386h2v1h-2zM364 386h1v1h-1zM341 390h2v2h-2zM347 389h2v2h-2zM351 389h1v2h-1zM183 421h2v2h-2zM187 423h2v2h-2zM188 420h2v2h-2zM190 409h2v2h-2zM192 411h2v2h-2zM191 413h2v2h-2zM193 419h2v2h-2zM189 416h2v2h-2zM237 401h1v1h-1zM282 396h2v1h-2zM215 235h1v2h-1zM214 268h2v2h-2zM219 268h2v2h-2zM224 268h3v2h-3zM230 265h3v3h-3zM231 268h3v2h-3zM234 268h2v2h-2zM239 270h1v1h-1zM230 272h1v1h-1zM226 276h2v1h-2zM224 273h1v1h-1zM215 273h2v1h-2zM216 279h1v1h-1zM213 277h1v1h-1zM256 258h2v2h-2zM261 252h1v1h-1zM260 255h2v2h-2zM264 252h1v1h-1zM260 261h1v2h-1zM251 266h1v1h-1zM317 231h1v1h-1zM321 231h1v1h-1zM309 235h1v1h-1zM312 234h1v1h-1zM313 235h1v1h-1zM320 233h2v2h-2zM343 222h1v1h-1zM343 224h1v1h-1zM343 226h1v1h-1zM288 245h1v1h-1zM311 84h1v1h-1zM313 84h1v1h-1zM318 85h1v1h-1zM220 120h1v1h-1zM186 189h2v2h-2zM190 191h2v2h-2zM188 202h2v2h-2zM216 203h1v1h-1zM216 217h1v1h-1zM216 220h1v1h-1zM216 222h1v1h-1zM215 235h1v1h-1zM186 259h2v2h-2zM187 302h2v2h-2zM186 341h2v2h-2zM186 368h2v2h-2zM454 508h2v3h-2zM167 517h2v2h-2z"/>
<path fill="#aa0099" d="M200 422h1v1h-1zM201 422h1v1h-1zM202 422h2v1h-2zM200 421h1v1h-1zM201 421h1v1h-1zM202 421h2v1h-2zM204 421h1v1h-1zM205 421h1v1h-1zM218 421h2v1h-2zM224 421h1v1h-1zM225 421h1v1h-1zM202 419h2v2h-2zM204 419h1v2h-1zM205 419h1v2h-1zM218 419h2v2h-2zM225 419h1v2h-1zM229 419h1v2h-1zM230 419h2v2h-2zM200 418h1v1h-1zM229 418h1v1h-1zM213 416h1v2h-1zM214 416h2v2h-2zM217 416h1v2h-1zM220 416h1v2h-1zM221 416h1v2h-1zM222 416h2v2h-2zM224 416h1v2h-1zM225 416h1v2h-1zM228 416h1v2h-1zM229 416h1v2h-1zM198 415h2v1h-2zM200 415h1v1h-1zM201 415h1v1h-1zM204 415h1v1h-1zM213 415h1v1h-1zM216 415h1v1h-1zM217 415h1v1h-1zM220 415h1v1h-1zM221 415h1v1h-1zM222 415h2v1h-2zM224 415h1v1h-1zM202 414h2v1h-2zM205 414h1v1h-1zM206 414h2v1h-2zM212 414h1v1h-1zM214 414h2v1h-2zM220 414h1v1h-1zM221 414h1v1h-1zM232 414h1v1h-1zM206 412h2v2h-2zM208 412h1v2h-1zM210 412h2v2h-2zM212 412h1v2h-1zM220 412h1v2h-1zM226 412h2v2h-2zM228 412h1v2h-1zM229 412h1v2h-1zM230 412h2v2h-2zM201 411h1v1h-1zM202 411h2v1h-2zM208 411h1v1h-1zM210 411h2v1h-2zM212 411h1v1h-1zM217 411h1v1h-1zM218 411h2v1h-2zM220 411h1v1h-1zM224 411h1v1h-1zM233 411h1v1h-1zM234 411h2v1h-2zM238 411h2v1h-2zM204 409h1v2h-1zM222 409h2v2h-2zM225 409h1v2h-1zM226 409h2v2h-2zM228 409h1v2h-1zM232 409h1v2h-1zM233 409h1v2h-1zM237 409h1v2h-1zM238 409h2v2h-2zM240 409h1v2h-1zM241 409h1v2h-1zM242 409h2v2h-2zM244 409h1v2h-1zM245 409h1v2h-1zM214 408h2v1h-2zM216 408h1v1h-1zM217 408h1v1h-1zM221 408h1v1h-1zM222 408h2v1h-2zM225 408h1v1h-1zM226 408h2v1h-2zM228 408h1v1h-1zM233 408h1v1h-1zM237 408h1v1h-1zM238 408h2v1h-2zM241 408h1v1h-1zM242 408h2v1h-2zM244 408h1v1h-1zM216 407h1v1h-1zM225 407h1v1h-1zM226 407h2v1h-2zM229 407h1v1h-1zM236 407h1v1h-1zM237 407h1v1h-1zM238 407h2v1h-2zM240 407h1v1h-1zM242 407h2v1h-2zM244 407h1v1h-1zM245 407h1v1h-1zM250 407h2v1h-2zM252 407h1v1h-1zM253 407h1v1h-1zM254 407h2v1h-2zM258 407h2v1h-2zM260 407h1v1h-1zM261 407h1v1h-1zM225 405h1v2h-1zM226 405h2v2h-2zM229 405h1v2h-1zM250 405h2v2h-2zM253 405h1v2h-1zM254 405h2v2h-2zM265 405h1v2h-1zM257 404h1v1h-1zM262 404h2v1h-2zM264 404h1v1h-1zM274 402h2v2h-2zM276 400h1v1h-1zM293 400h1v1h-1zM288 398h1v2h-1zM289 398h1v2h-1zM293 398h1v2h-1zM288 397h1v1h-1zM290 397h2v1h-2zM292 397h1v1h-1zM296 397h1v1h-1zM297 397h1v1h-1zM290 396h2v1h-2zM189 426h1v2h-1zM189 421h1v1h-1zM192 422h1v1h-1zM192 421h1v1h-1zM196 422h1v1h-1zM196 421h1v1h-1zM191 407h2v2h-2zM205 405h1v2h-1zM209 390h1v1h-1zM213 394h1v2h-1zM213 384h1v2h-1zM214 405h2v2h-2zM216 376h1v1h-1zM218 387h2v2h-2zM222 397h2v1h-2zM222 380h2v2h-2zM226 390h2v1h-2zM229 376h1v1h-1zM237 391h1v2h-1zM257 394h1v2h-1zM268 398h1v2h-1zM268 396h1v1h-1zM280 389h1v1h-1zM292 383h1v1h-1zM239 392h3v3h-3zM225 396h3v2h-3zM239 274h1v1h-1zM239 276h1v1h-1zM231 276h1v2h-1zM252 66h2v2h-2zM253 64h1v1h-1zM392 479h2v2h-2zM392 513h2v5h-2zM216 462h1v1h-1zM218 471h1v1h-1zM282 380h2v2h-2z"/>
<path fill="#44aaff" d="M365 385h2v2h-2zM224 404h1v1h-1zM230 391h2v2h-2zM250 387h2v2h-2zM252 400h1v1h-1zM224 382h2v3h-2zM230 383h2v2h-2zM220 369h1v1h-1zM226 370h2v2h-2zM213 369h1v1h-1zM232 372h1v1h-1zM233 376h1v1h-1zM232 369h1v1h-1zM250 372h2v1h-2zM250 370h2v2h-2zM261 365h1v1h-1zM244 369h1v1h-1zM220 377h1v2h-1zM310 359h2v2h-2zM314 358h2v1h-2zM312 358h1v1h-1zM230 344h1v1h-1zM231 350h1v1h-1zM204 343h1v1h-1zM249 325h1v1h-1zM240 338h2v1h-2zM316 85h1v1h-1z"/>
<path fill="#dddd00" d="M373 382h2v2h-2zM202 392h1v2h-1zM198 295h2v2h-2zM198 290h2v1h-2zM198 288h2v2h-2zM198 284h2v1h-2zM198 283h2v1h-2zM198 280h2v1h-2zM198 278h2v2h-2zM198 277h2v1h-2zM198 262h2v1h-2zM200 297h1v1h-1zM200 292h1v2h-1zM200 291h1v1h-1zM200 290h1v1h-1zM200 288h1v2h-1zM200 284h1v1h-1zM200 281h1v2h-1zM200 280h1v1h-1zM200 277h1v1h-1zM200 276h1v1h-1zM200 274h1v2h-1zM200 273h1v1h-1zM200 262h1v1h-1zM201 291h1v1h-1zM201 288h1v2h-1zM201 287h1v1h-1zM201 285h1v2h-1zM201 284h1v1h-1zM201 283h1v1h-1zM201 281h1v2h-1zM201 274h1v2h-1zM201 273h1v1h-1zM201 272h1v1h-1zM201 266h1v1h-1zM202 298h2v1h-2zM202 292h2v2h-2zM202 291h2v1h-2zM202 285h2v2h-2zM202 281h2v2h-2zM202 276h2v1h-2zM202 274h2v2h-2zM202 273h2v1h-2zM204 297h1v1h-1zM204 290h1v1h-1zM204 288h1v2h-1zM204 287h1v1h-1zM204 285h1v2h-1zM204 281h1v2h-1zM204 280h1v1h-1zM204 277h1v1h-1zM204 274h1v2h-1zM204 270h1v2h-1zM204 267h1v2h-1zM205 294h1v1h-1zM205 291h1v1h-1zM205 290h1v1h-1zM205 285h1v2h-1zM205 284h1v1h-1zM205 283h1v1h-1zM205 281h1v2h-1zM205 278h1v2h-1zM205 276h1v1h-1zM205 270h1v2h-1zM205 267h1v2h-1zM205 260h1v2h-1zM206 288h2v2h-2zM206 283h2v1h-2zM206 280h2v1h-2zM206 277h2v1h-2zM206 274h2v2h-2zM206 270h2v2h-2zM208 298h1v1h-1zM208 297h1v1h-1zM208 295h1v2h-1zM208 291h1v1h-1zM208 290h1v1h-1zM208 288h1v2h-1zM208 281h1v2h-1zM208 280h1v1h-1zM208 277h1v1h-1zM208 276h1v1h-1zM208 260h1v2h-1zM209 297h1v1h-1zM209 281h1v2h-1zM209 280h1v1h-1zM209 270h1v2h-1zM209 263h1v2h-1zM210 291h2v1h-2zM210 288h2v2h-2zM210 287h2v1h-2zM210 285h2v2h-2zM210 278h2v2h-2zM210 276h2v1h-2zM210 274h2v2h-2zM212 290h1v1h-1zM212 288h1v2h-1zM212 281h1v2h-1zM212 272h1v1h-1zM213 281h1v2h-1zM213 277h1v1h-1zM214 294h2v1h-2zM214 292h2v2h-2zM214 280h2v1h-2zM214 276h2v1h-2zM216 287h1v1h-1zM216 267h1v2h-1zM216 260h1v2h-1zM217 297h1v1h-1zM217 262h1v1h-1zM218 283h2v1h-2zM218 276h2v1h-2zM198 344h2v1h-2zM198 338h2v2h-2zM198 336h2v1h-2zM198 334h2v2h-2zM198 331h2v2h-2zM198 330h2v1h-2zM198 327h2v2h-2zM198 326h2v1h-2zM198 324h2v2h-2zM198 320h2v2h-2zM198 319h2v1h-2zM198 313h2v2h-2zM198 309h2v2h-2zM198 306h2v2h-2zM200 347h1v1h-1zM200 341h1v2h-1zM200 338h1v2h-1zM200 337h1v1h-1zM200 336h1v1h-1zM200 334h1v2h-1zM200 331h1v2h-1zM200 329h1v1h-1zM200 327h1v2h-1zM200 326h1v1h-1zM200 324h1v2h-1zM200 322h1v1h-1zM200 319h1v1h-1zM200 315h1v1h-1zM200 313h1v2h-1zM200 309h1v2h-1zM200 306h1v2h-1zM201 337h1v1h-1zM201 336h1v1h-1zM201 334h1v2h-1zM201 331h1v2h-1zM201 330h1v1h-1zM201 324h1v2h-1zM201 323h1v1h-1zM201 322h1v1h-1zM202 345h2v2h-2zM202 338h2v2h-2zM202 337h2v1h-2zM202 336h2v1h-2zM202 334h2v2h-2zM202 331h2v2h-2zM202 330h2v1h-2zM202 327h2v2h-2zM202 326h2v1h-2zM202 324h2v2h-2zM202 323h2v1h-2zM202 322h2v1h-2zM202 320h2v2h-2zM202 312h2v1h-2zM202 308h2v1h-2zM202 306h2v2h-2zM204 343h1v1h-1zM204 337h1v1h-1zM204 336h1v1h-1zM204 331h1v2h-1zM204 330h1v1h-1zM204 329h1v1h-1zM204 326h1v1h-1zM204 322h1v1h-1zM204 316h1v1h-1zM204 312h1v1h-1zM204 308h1v1h-1zM204 306h1v2h-1zM205 341h1v2h-1zM205 336h1v1h-1zM205 334h1v2h-1zM205 333h1v1h-1zM205 330h1v1h-1zM205 329h1v1h-1zM205 327h1v2h-1zM205 326h1v1h-1zM205 324h1v2h-1zM205 322h1v1h-1zM205 320h1v2h-1zM206 336h2v1h-2zM206 330h2v1h-2zM206 327h2v2h-2zM206 320h2v2h-2zM206 319h2v1h-2zM208 336h1v1h-1zM208 334h1v2h-1zM208 333h1v1h-1zM208 330h1v1h-1zM208 324h1v2h-1zM208 323h1v1h-1zM208 322h1v1h-1zM208 319h1v1h-1zM209 340h1v1h-1zM209 338h1v2h-1zM209 337h1v1h-1zM209 334h1v2h-1zM209 330h1v1h-1zM209 323h1v1h-1zM209 322h1v1h-1zM209 315h1v1h-1zM210 347h2v1h-2zM210 345h2v2h-2zM210 340h2v1h-2zM210 330h2v1h-2zM210 329h2v1h-2zM210 324h2v2h-2zM210 319h2v1h-2zM212 345h1v2h-1zM212 337h1v1h-1zM212 326h1v1h-1zM212 324h1v2h-1zM212 322h1v1h-1zM213 336h1v1h-1zM213 330h1v1h-1zM213 320h1v2h-1zM214 337h2v1h-2zM214 329h2v1h-2zM214 327h2v2h-2zM214 311h2v1h-2zM216 331h1v2h-1zM216 319h1v1h-1zM217 348h1v2h-1zM217 334h1v2h-1zM217 323h1v1h-1zM217 322h1v1h-1zM218 336h2v1h-2zM218 333h2v1h-2zM218 322h2v1h-2zM218 315h2v1h-2zM218 311h2v1h-2zM221 281h1v1h-1zM227 283h1v1h-1zM228 276h1v1h-1zM239 283h1v1h-1zM239 287h1v1h-1zM232 325h1v1h-1zM232 336h1v1h-1zM192 62h1v1h-1zM191 120h2v2h-2zM452 517h2v2h-2z"/>
<path fill="#11ddff" d="M186 426h2v2h-2zM186 431h2v2h-2zM202 401h2v1h-2zM214 401h2v1h-2zM217 391h1v2h-1zM221 377h1v2h-1zM222 404h2v1h-2zM222 401h2v1h-2zM222 382h2v1h-2zM226 397h2v1h-2zM244 397h1v1h-1zM246 397h2v1h-2zM253 391h1v2h-1zM254 401h2v1h-2zM254 397h2v1h-2zM257 377h1v2h-1zM258 400h2v1h-2zM258 397h2v1h-2zM272 397h1v1h-1zM276 377h1v2h-1zM277 397h1v1h-1zM280 391h1v2h-1zM229 365h1v1h-1zM218 369h2v1h-2zM214 372h2v1h-2zM212 370h1v2h-1zM218 370h2v2h-2zM217 373h1v2h-1zM229 372h1v1h-1zM220 366h1v2h-1zM225 368h1v1h-1zM230 368h2v1h-2zM241 373h1v2h-1zM226 373h2v2h-2zM242 366h2v2h-2zM217 377h1v2h-1zM233 368h1v1h-1zM236 368h1v1h-1zM229 366h1v2h-1zM217 372h1v1h-1zM237 370h1v2h-1zM228 366h1v2h-1zM222 368h2v1h-2zM221 366h1v2h-1zM229 373h1v2h-1zM221 373h1v2h-1zM222 369h2v1h-2zM224 373h1v2h-1zM228 373h1v2h-1zM245 370h1v2h-1zM225 375h1v1h-1zM230 369h2v1h-2zM229 375h1v1h-1zM234 366h2v2h-2zM229 368h1v1h-1zM221 370h1v2h-1zM232 370h1v2h-1zM224 375h1v1h-1zM233 369h1v1h-1zM232 368h1v1h-1zM222 372h2v1h-2zM249 373h1v2h-1zM238 373h2v2h-2zM224 372h1v1h-1zM237 369h1v1h-1zM236 373h1v2h-1zM209 372h1v1h-1zM228 369h1v1h-1zM242 369h2v1h-2zM216 369h1v1h-1zM234 373h2v2h-2zM226 375h2v1h-2zM214 370h2v2h-2zM222 375h2v1h-2zM214 366h2v2h-2zM202 372h2v1h-2zM225 369h1v1h-1zM250 366h2v2h-2zM257 372h1v1h-1zM241 370h1v2h-1zM240 368h1v1h-1zM256 366h1v2h-1zM250 369h2v1h-2zM249 368h1v1h-1zM249 375h1v1h-1zM252 366h1v2h-1zM258 366h2v2h-2zM253 368h1v1h-1zM241 369h1v1h-1zM257 375h1v1h-1zM252 363h1v2h-1zM249 366h1v2h-1zM254 375h2v1h-2zM245 368h1v1h-1zM253 370h1v2h-1zM248 366h1v2h-1zM260 373h1v2h-1zM241 368h1v1h-1zM246 369h2v1h-2zM262 368h2v1h-2zM256 365h1v1h-1zM253 366h1v2h-1zM253 365h1v1h-1zM253 369h1v1h-1zM221 376h1v1h-1zM244 373h1v2h-1zM241 383h1v1h-1zM209 377h1v2h-1zM273 377h1v2h-1zM261 379h1v1h-1zM220 376h1v1h-1zM221 384h1v2h-1zM208 373h1v2h-1zM225 377h1v2h-1zM228 375h1v1h-1zM230 375h2v1h-2zM236 376h1v1h-1zM244 379h1v1h-1zM218 377h2v2h-2zM214 377h2v2h-2zM232 377h1v2h-1zM253 382h1v1h-1zM244 376h1v1h-1zM248 375h1v1h-1zM270 382h2v1h-2zM213 379h1v1h-1zM241 372h1v1h-1zM200 383h1v1h-1zM220 372h1v1h-1zM220 375h1v1h-1zM237 375h1v1h-1zM268 368h1v1h-1zM242 372h2v1h-2zM222 384h2v2h-2zM238 383h2v1h-2zM217 379h1v1h-1zM226 379h2v1h-2zM224 383h1v1h-1zM260 377h1v2h-1zM240 382h1v1h-1zM224 377h1v2h-1zM217 389h1v1h-1zM220 383h1v1h-1zM309 362h1v1h-1zM316 359h1v2h-1zM317 358h1v1h-1zM314 356h2v2h-2zM310 358h2v1h-2zM305 361h1v1h-1zM309 356h1v2h-1zM312 363h1v2h-1zM313 361h1v1h-1zM317 359h1v2h-1zM316 362h1v1h-1zM317 356h1v2h-1zM314 363h2v2h-2zM309 361h1v1h-1zM313 356h1v2h-1zM313 362h1v1h-1zM312 359h1v2h-1zM313 358h1v1h-1zM318 361h2v1h-2zM306 362h2v1h-2zM310 355h2v1h-2zM322 362h2v1h-2zM314 362h2v1h-2zM203 372h1v2h-1zM203 374h2v1h-2zM208 349h1v2h-1zM209 352h1v2h-1zM213 346h2v1h-2zM219 351h1v1h-1zM223 349h1v2h-1zM216 341h1v1h-1zM246 322h1v1h-1zM251 324h2v1h-2zM256 320h2v1h-2zM232 333h2v2h-2zM235 336h1v2h-1zM245 337h2v2h-2zM230 350h1v2h-1zM256 322h2v2h-2zM238 265h1v2h-1zM226 273h2v2h-2zM219 276h1v1h-1zM257 262h1v1h-1zM319 235h1v1h-1zM200 78h1v1h-1zM305 88h2v2h-2zM317 83h2v3h-2zM319 81h2v4h-2zM454 499h2v2h-2zM454 506h2v2h-2zM351 334h1v1h-1zM288 322h1v2h-1zM286 320h1v1h-1zM296 325h1v1h-1zM282 377h2v1h-2z"/>
<path fill="#f8b4ac" d="M218 405h2v2h-2zM218 383h2v1h-2zM225 393h1v1h-1zM226 400h2v1h-2zM228 398h1v2h-1zM230 398h2v2h-2zM233 387h1v2h-1zM236 402h1v2h-1zM236 386h1v1h-1zM237 398h1v2h-1zM238 384h2v2h-2zM240 387h1v2h-1zM241 390h1v1h-1zM249 396h1v1h-1zM256 398h1v2h-1zM257 400h1v1h-1zM260 398h1v2h-1zM260 396h1v1h-1zM261 390h1v1h-1zM264 380h1v2h-1zM269 389h1v1h-1zM285 390h1v1h-1zM300 390h1v1h-1zM214 393h2v1h-2zM214 396h2v1h-2zM214 398h2v2h-2zM214 402h2v2h-2zM217 390h1v1h-1zM217 394h1v2h-1zM217 401h1v1h-1zM232 389h1v1h-1zM232 390h1v1h-1zM232 402h1v2h-1zM241 391h1v2h-1zM241 394h1v2h-1zM241 398h1v2h-1zM241 401h1v1h-1zM241 402h1v2h-1zM205 277h1v1h-1zM205 274h1v2h-1zM205 265h1v1h-1zM206 265h2v1h-2zM209 288h1v2h-1zM210 280h2v1h-2zM210 273h2v1h-2zM212 295h1v2h-1zM212 285h1v2h-1zM212 278h1v2h-1zM212 274h1v2h-1zM216 285h1v2h-1zM217 290h1v1h-1zM218 281h2v2h-2zM218 273h2v1h-2zM205 331h1v2h-1zM205 319h1v1h-1zM205 317h1v2h-1zM206 338h2v2h-2zM206 331h2v2h-2zM206 326h2v1h-2zM206 324h2v2h-2zM206 309h2v2h-2zM208 338h1v2h-1zM208 331h1v2h-1zM208 320h1v2h-1zM208 308h1v1h-1zM209 327h1v2h-1zM209 324h1v2h-1zM210 334h2v2h-2zM212 348h1v2h-1zM212 336h1v1h-1zM212 327h1v2h-1zM213 322h1v1h-1zM216 337h1v1h-1zM217 319h1v1h-1zM218 324h2v2h-2zM238 286h1v1h-1zM210 305h1v1h-1zM214 303h1v1h-1zM212 345h1v1h-1zM216 338h1v1h-1zM345 227h1v1h-1zM349 227h2v2h-2zM352 223h1v2h-1zM355 223h2v2h-2zM473 347h3v2h-3zM476 346h2v2h-2zM478 344h2v2h-2zM482 341h4v2h-4zM484 340h2v2h-2zM494 340h3v2h-3zM496 338h3v2h-3zM498 336h2v2h-2zM454 511h2v2h-2zM307 349h1v1h-1z"/>
</g>
<g fill="none" stroke="#000" stroke-width="1.15" stroke-linejoin="round" stroke-linecap="butt"><polyline points="166.0,443.0 179.0,438.0 192.6,433.4 205.0,429.0 218.3,425.0 232.0,421.3 245.7,417.8 258.0,415.2 271.0,413.0 285.0,411.0 298.0,409.3 312.0,407.7 325.7,406.0 340.0,404.4 351.7,403.2 360.3,402.4 357.3,400.4"/><polyline points="166.0,355.0 176.5,359.8 185.5,364.5 195.0,369.0 203.6,371.6 213.3,374.5 223.6,376.8 232.0,378.5 243.0,380.8 252.7,382.3 262.4,383.8 275.0,385.5 285.0,387.8 297.0,390.3 312.0,393.0 324.5,394.6 337.0,396.3 348.5,398.6 357.3,400.4" stroke-dasharray="6 3.8" stroke-dashoffset="4.4" stroke-width="1.2"/><polyline points="201.1,427.1 204.3,426.0 205.4,423.4 206.9,427.7 208.9,425.7 212.9,423.7 215.7,421.1 218.0,420.3 220.3,420.2 225.0,416.8 230.0,413.4 237.0,408.6 240.0,406.6 244.6,402.0 248.6,397.4 250.9,393.4 254.3,391.5 261.0,391.0 264.0,386.6 267.4,382.3 272.6,384.3 278.9,386.6 281.7,384.9 282.9,383.7 285.7,392.3 287.4,383.1 288.6,390.0 289.1,397.4 293.7,398.6 299.4,400.3 304.0,401.0 310.9,401.0 318.3,398.6 325.0,396.6 331.3,395.3 338.7,393.6 344.3,393.4 350.0,393.2 355.4,392.3 359.0,390.0 360.5,387.5" stroke-width="1.2"/></g>
<g fill="#000" shape-rendering="crispEdges"><rect x="165" y="61" width="481" height="1"/><rect x="165" y="61" width="1" height="459"/><rect x="645" y="61" width="1" height="459"/><rect x="159" y="519" width="487" height="1"/><rect x="159" y="519" width="6" height="1"/><rect x="162" y="513" width="3" height="1"/><rect x="159" y="508" width="6" height="1"/><rect x="162" y="502" width="3" height="1"/><rect x="162" y="497" width="3" height="1"/><rect x="162" y="491" width="3" height="1"/><rect x="162" y="486" width="3" height="1"/><rect x="159" y="480" width="6" height="1"/><rect x="162" y="474" width="3" height="1"/><rect x="162" y="469" width="3" height="1"/><rect x="162" y="463" width="3" height="1"/><rect x="162" y="458" width="3" height="1"/><rect x="159" y="452" width="6" height="1"/><rect x="162" y="447" width="3" height="1"/><rect x="162" y="441" width="3" height="1"/><rect x="162" y="435" width="3" height="1"/><rect x="162" y="430" width="3" height="1"/><rect x="159" y="424" width="6" height="1"/><rect x="162" y="419" width="3" height="1"/><rect x="162" y="413" width="3" height="1"/><rect x="162" y="408" width="3" height="1"/><rect x="162" y="402" width="3" height="1"/><rect x="159" y="396" width="6" height="1"/><rect x="162" y="391" width="3" height="1"/><rect x="162" y="385" width="3" height="1"/><rect x="162" y="380" width="3" height="1"/><rect x="162" y="374" width="3" height="1"/><rect x="159" y="369" width="6" height="1"/><rect x="162" y="363" width="3" height="1"/><rect x="162" y="357" width="3" height="1"/><rect x="162" y="352" width="3" height="1"/><rect x="162" y="346" width="3" height="1"/><rect x="159" y="341" width="6" height="1"/><rect x="162" y="335" width="3" height="1"/><rect x="162" y="330" width="3" height="1"/><rect x="162" y="324" width="3" height="1"/><rect x="162" y="318" width="3" height="1"/><rect x="159" y="313" width="6" height="1"/><rect x="162" y="307" width="3" height="1"/><rect x="162" y="302" width="3" height="1"/><rect x="162" y="296" width="3" height="1"/><rect x="162" y="290" width="3" height="1"/><rect x="159" y="285" width="6" height="1"/><rect x="162" y="279" width="3" height="1"/><rect x="162" y="274" width="3" height="1"/><rect x="162" y="268" width="3" height="1"/><rect x="162" y="263" width="3" height="1"/><rect x="159" y="257" width="6" height="1"/><rect x="162" y="251" width="3" height="1"/><rect x="162" y="246" width="3" height="1"/><rect x="162" y="240" width="3" height="1"/><rect x="162" y="235" width="3" height="1"/><rect x="159" y="229" width="6" height="1"/><rect x="162" y="224" width="3" height="1"/><rect x="162" y="218" width="3" height="1"/><rect x="162" y="212" width="3" height="1"/><rect x="162" y="207" width="3" height="1"/><rect x="159" y="201" width="6" height="1"/><rect x="162" y="196" width="3" height="1"/><rect x="162" y="190" width="3" height="1"/><rect x="162" y="185" width="3" height="1"/><rect x="162" y="179" width="3" height="1"/><rect x="159" y="173" width="6" height="1"/><rect x="162" y="168" width="3" height="1"/><rect x="162" y="162" width="3" height="1"/><rect x="162" y="157" width="3" height="1"/><rect x="162" y="151" width="3" height="1"/><rect x="159" y="146" width="6" height="1"/><rect x="162" y="140" width="3" height="1"/><rect x="162" y="134" width="3" height="1"/><rect x="162" y="129" width="3" height="1"/><rect x="162" y="123" width="3" height="1"/><rect x="159" y="118" width="6" height="1"/><rect x="162" y="112" width="3" height="1"/><rect x="162" y="107" width="3" height="1"/><rect x="162" y="101" width="3" height="1"/><rect x="162" y="95" width="3" height="1"/><rect x="159" y="90" width="6" height="1"/><rect x="162" y="84" width="3" height="1"/><rect x="162" y="79" width="3" height="1"/><rect x="162" y="73" width="3" height="1"/><rect x="162" y="68" width="3" height="1"/><rect x="159" y="62" width="6" height="1"/><rect x="165" y="520" width="1" height="6"/><rect x="192" y="520" width="1" height="6"/><rect x="218" y="520" width="1" height="6"/><rect x="245" y="520" width="1" height="6"/><rect x="271" y="520" width="1" height="6"/><rect x="298" y="520" width="1" height="6"/><rect x="325" y="520" width="1" height="6"/><rect x="351" y="520" width="1" height="6"/><rect x="378" y="520" width="1" height="6"/><rect x="405" y="520" width="1" height="6"/><rect x="431" y="520" width="1" height="6"/><rect x="458" y="520" width="1" height="6"/><rect x="484" y="520" width="1" height="6"/><rect x="511" y="520" width="1" height="6"/><rect x="538" y="520" width="1" height="6"/><rect x="564" y="520" width="1" height="6"/><rect x="591" y="520" width="1" height="6"/><rect x="617" y="520" width="1" height="6"/><rect x="644" y="520" width="1" height="6"/></g>
<g font-family="'Liberation Sans', sans-serif" font-weight="bold" font-size="13.7px" fill="#000" stroke="#000" stroke-width="0.35"><text transform="translate(155.6,68.2) scale(0.89,1)" text-anchor="end">900</text><text transform="translate(155.6,123.9) scale(0.89,1)" text-anchor="end">800</text><text transform="translate(155.6,179.7) scale(0.89,1)" text-anchor="end">700</text><text transform="translate(155.6,235.4) scale(0.89,1)" text-anchor="end">600</text><text transform="translate(155.6,291.1) scale(0.89,1)" text-anchor="end">500</text><text transform="translate(155.6,346.9) scale(0.89,1)" text-anchor="end">400</text><text transform="translate(155.6,402.6) scale(0.89,1)" text-anchor="end">300</text><text transform="translate(155.6,458.3) scale(0.89,1)" text-anchor="end">200</text><text transform="translate(155.6,525.2) scale(0.89,1)" text-anchor="end">80</text><path transform="translate(162.11,541.9) scale(0.005954,-0.006689)" d="M806 0H525V1059Q371 915 162 846V1101Q272 1137 401 1237.5Q530 1338 578 1472H806Z" stroke-width="52"/><text transform="translate(188.72,541.9) scale(0.89,1)">2</text><text transform="translate(215.33,541.9) scale(0.89,1)">3</text><text transform="translate(241.94,541.9) scale(0.89,1)">4</text><text transform="translate(268.55,541.9) scale(0.89,1)">5</text><text transform="translate(295.17,541.9) scale(0.89,1)">6</text><text transform="translate(321.78,541.9) scale(0.89,1)">7</text><text transform="translate(348.39,541.9) scale(0.89,1)">8</text><text transform="translate(375.00,541.9) scale(0.89,1)">9</text><path transform="translate(398.22,541.9) scale(0.005954,-0.006689)" d="M806 0H525V1059Q371 915 162 846V1101Q272 1137 401 1237.5Q530 1338 578 1472H806Z" stroke-width="52"/><text transform="translate(405.00,541.9) scale(0.89,1)">0</text><path transform="translate(424.83,541.9) scale(0.005954,-0.006689)" d="M806 0H525V1059Q371 915 162 846V1101Q272 1137 401 1237.5Q530 1338 578 1472H806Z" stroke-width="52"/><path transform="translate(431.61,541.9) scale(0.005954,-0.006689)" d="M806 0H525V1059Q371 915 162 846V1101Q272 1137 401 1237.5Q530 1338 578 1472H806Z" stroke-width="52"/><path transform="translate(451.44,541.9) scale(0.005954,-0.006689)" d="M806 0H525V1059Q371 915 162 846V1101Q272 1137 401 1237.5Q530 1338 578 1472H806Z" stroke-width="52"/><text transform="translate(458.22,541.9) scale(0.89,1)">2</text><path transform="translate(478.05,541.9) scale(0.005954,-0.006689)" d="M806 0H525V1059Q371 915 162 846V1101Q272 1137 401 1237.5Q530 1338 578 1472H806Z" stroke-width="52"/><text transform="translate(484.83,541.9) scale(0.89,1)">3</text><path transform="translate(504.67,541.9) scale(0.005954,-0.006689)" d="M806 0H525V1059Q371 915 162 846V1101Q272 1137 401 1237.5Q530 1338 578 1472H806Z" stroke-width="52"/><text transform="translate(511.44,541.9) scale(0.89,1)">4</text><path transform="translate(531.28,541.9) scale(0.005954,-0.006689)" d="M806 0H525V1059Q371 915 162 846V1101Q272 1137 401 1237.5Q530 1338 578 1472H806Z" stroke-width="52"/><text transform="translate(538.06,541.9) scale(0.89,1)">5</text><path transform="translate(557.89,541.9) scale(0.005954,-0.006689)" d="M806 0H525V1059Q371 915 162 846V1101Q272 1137 401 1237.5Q530 1338 578 1472H806Z" stroke-width="52"/><text transform="translate(564.67,541.9) scale(0.89,1)">6</text><path transform="translate(584.50,541.9) scale(0.005954,-0.006689)" d="M806 0H525V1059Q371 915 162 846V1101Q272 1137 401 1237.5Q530 1338 578 1472H806Z" stroke-width="52"/><text transform="translate(591.28,541.9) scale(0.89,1)">7</text><path transform="translate(611.11,541.9) scale(0.005954,-0.006689)" d="M806 0H525V1059Q371 915 162 846V1101Q272 1137 401 1237.5Q530 1338 578 1472H806Z" stroke-width="52"/><text transform="translate(617.89,541.9) scale(0.89,1)">8</text><path transform="translate(637.72,541.9) scale(0.005954,-0.006689)" d="M806 0H525V1059Q371 915 162 846V1101Q272 1137 401 1237.5Q530 1338 578 1472H806Z" stroke-width="52"/><text transform="translate(644.50,541.9) scale(0.89,1)">9</text></g>
<g font-family="'Liberation Sans', sans-serif" font-weight="bold" font-size="13.9px"><rect x="651" y="61" width="43" height="18" fill="#888888" shape-rendering="crispEdges"/><text transform="translate(652.2,75.8) scale(0.92,1)" letter-spacing="0.65" fill="#fff">NoVal</text><rect x="651" y="80" width="43" height="18" fill="#11ddff" shape-rendering="crispEdges"/><text transform="translate(652.2,94.8) scale(0.92,1)" letter-spacing="-0.4" fill="#fff">NNE</text><rect x="651" y="99" width="43" height="18" fill="#44aaff" shape-rendering="crispEdges"/><text transform="translate(652.2,113.8) scale(0.92,1)" letter-spacing="0" fill="#fff">E</text><rect x="651" y="118" width="43" height="18" fill="#aa0099" shape-rendering="crispEdges"/><text transform="translate(652.2,132.8) scale(1.03,1)" letter-spacing="0" fill="#fff">W</text><rect x="651" y="137" width="43" height="18" fill="#ff4499" shape-rendering="crispEdges"/><text transform="translate(652.2,151.8) scale(0.92,1)" letter-spacing="1.25" fill="#fff">Vo-</text><rect x="651" y="156" width="43" height="18" fill="#ff0033" shape-rendering="crispEdges"/><text transform="translate(652.2,170.8) scale(0.92,1)" letter-spacing="1.5" fill="#fff">Vo+</text><rect x="651" y="175" width="43" height="18" fill="#f8b4ac" shape-rendering="crispEdges"/><text transform="translate(652.2,189.8) scale(0.92,1)" letter-spacing="1.0" fill="#fff">SSW</text><rect x="651" y="194" width="43" height="18" fill="#007700" shape-rendering="crispEdges"/><text transform="translate(652.2,208.8) scale(0.92,1)" letter-spacing="2.2" fill="#fff">X-</text><rect x="651" y="213" width="43" height="18" fill="#88bb66" shape-rendering="crispEdges"/><text transform="translate(652.2,227.8) scale(0.92,1)" letter-spacing="2.0" fill="#fff">X+</text><rect x="651" y="232" width="43" height="18" fill="#dddd00" shape-rendering="crispEdges"/><text transform="translate(652.2,246.8) scale(0.92,1)" letter-spacing="0.2" fill="#fff">SSE</text><rect x="651" y="251" width="43" height="18" fill="#2200ee" shape-rendering="crispEdges"/><text transform="translate(652.2,265.8) scale(0.92,1)" letter-spacing="1.0" fill="#fff">NNW</text></g>
<g>
<path d="M7.7 36.3 C4.5 31 3.2 26 3.8 22.3 C4.2 19 4.8 16.5 6 13.7 C7.5 11 9.5 9 12 7.7 C14 6.3 16.5 5.5 18.9 5.1 C21 4.6 23.5 4.4 25.7 4.6 C28 4.9 30.5 5.5 32.6 6.3 C30.5 6.1 28 6.2 25.7 6.5 C23.3 6.9 21 7.4 18.9 8.2 C17 9.1 15.2 10.3 13.7 11.7 C12.2 13.2 10.9 15 9.9 17.1 C8.9 19.3 8.2 21.6 7.7 24 C7.3 26.3 7.1 28.6 7.2 30.9 C7.3 32.7 7.4 34.5 7.7 36.3 Z" fill="#409dc9"/>
<text x="42" y="23.8" font-family="'Liberation Serif', serif" font-size="10.8px" fill="#2e2029" stroke="#2e2029" stroke-width="0.25">Lowell</text>
<text x="12.6" y="36.6" font-family="'Liberation Sans', sans-serif" font-size="11.6px" fill="#9c2465" stroke="#9c2465" stroke-width="0.3" textLength="60.5" lengthAdjust="spacingAndGlyphs">DIGISONDE</text>
</g>
<g fill="#000" shape-rendering="crispEdges"><rect x="2" y="188" width="106" height="1"/><rect x="2" y="244" width="106" height="1"/><rect x="2" y="316" width="106" height="1"/><rect x="2" y="452" width="106" height="1"/><rect x="2" y="476" width="106" height="1"/></g>
</svg>
<div class="m" style="top:57.4px">foF2      8.300</div>
<div class="m" style="top:73.4px">foF1        N/A</div>
<div class="m" style="top:89.4px">foF1p       N/A</div>
<div class="m" style="top:105.4px">foE         N/A</div>
<div class="m" style="top:121.4px">foEp       0.35</div>
<div class="m" style="top:137.4px">fxI        8.90</div>
<div class="m" style="top:153.4px">foEs        N/A</div>
<div class="m" style="top:169.4px">fmin       2.35</div>
<div class="m" style="top:193.4px">MUF(D)    29.54</div>
<div class="m" style="top:209.4px">M(D)       3.56</div>
<div class="m" style="top:225.4px">D           N/A</div>
<div class="m" style="top:249.4px">h`F       245.0</div>
<div class="m" style="top:265.4px">h`F2      245.0</div>
<div class="m" style="top:281.4px">h`E         N/A</div>
<div class="m" style="top:297.4px">h`Es        N/A</div>
<div class="m" style="top:321.4px">hmF2      288.1</div>
<div class="m" style="top:337.4px">hmF1        N/A</div>
<div class="m" style="top:353.4px">hmE       110.0</div>
<div class="m" style="top:369.4px">yF2        19.3</div>
<div class="m" style="top:385.4px">yF1         N/A</div>
<div class="m" style="top:401.4px">yE         20.0</div>
<div class="m" style="top:417.4px">B0         29.5</div>
<div class="m" style="top:433.4px">B1         1.00</div>
<div class="m" style="top:457.4px">C-level      22</div>
<div class="m" style="top:481.4px">Auto:          </div>
<div class="m" style="top:497.4px">Artist5        </div>
<div class="m" style="top:513.4px">500200         </div>
<div class="h" style="top:19.5px">Stati YYYY DAY   DDD HHMMSS P1  FFS S AXN PPS IGA PS</div>
<div class="h" style="top:35px">Sanya 2024 Oct13 287 125230 RSF     1 514 100 03+ C0</div>
<div class="m" style="top:557.5px">D     100  200  400  600  800 1000 1500 3000 [km]</div>
<div class="m" style="top:571px">MUF   8.9  9.0  9.4 10.2 11.3 12.9 17.5 29.5 [MHz]</div>
<div class="s" style="top:589px;left:2px">SA418_2024287125230.RSF / 360fx512h 50 kHz 2.5 km / DPS-4D SA418 118 / 18.3 N 109.4 E</div>
<div class="s" style="top:589px;left:596px">Ion2Png v. 1.3.16</div>
</div></body></html>
